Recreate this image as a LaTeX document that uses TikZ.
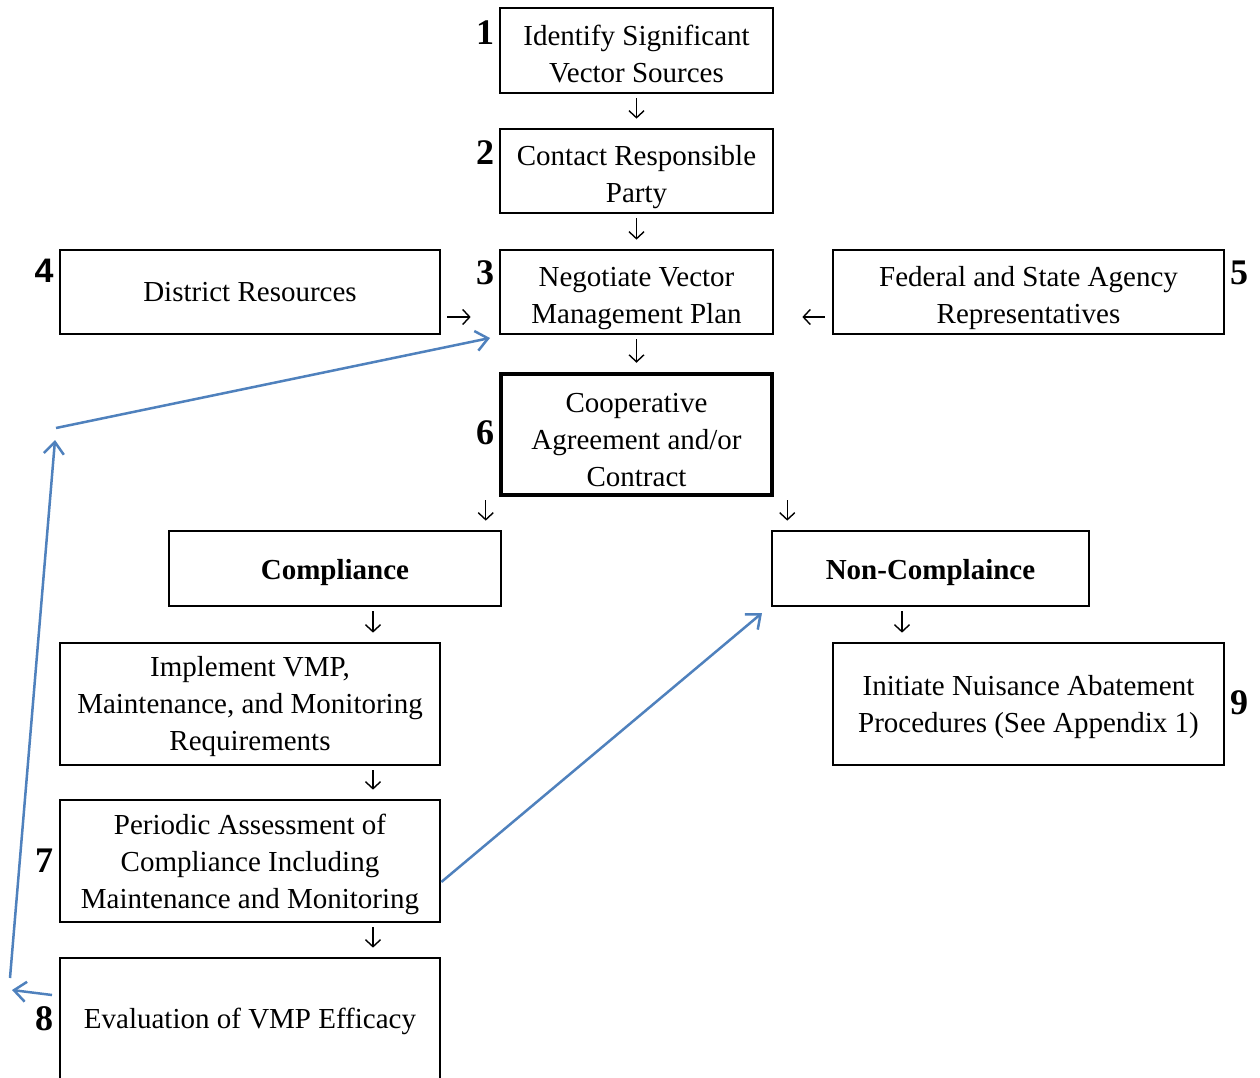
\documentclass[tikz,border=0pt]{standalone}
\usepackage{fontspec}
\setmainfont{Liberation Serif}
\newfontfamily\arialfont{Liberation Sans}
\usetikzlibrary{arrows.meta}
\definecolor{blueline}{HTML}{4F81BD}
\begin{document}
\begin{tikzpicture}[x=1pt,y=-1pt,
  box/.style={draw,line width=2.7pt,inner sep=0pt},
  txt/.style={align=center,inner sep=0pt,font=\fontsize{29}{37}\selectfont},
  btxt/.style={txt,font=\fontsize{29}{37}\selectfont\bfseries},
  num/.style={font=\fontsize{36}{40}\selectfont\bfseries,inner sep=0pt},
  sarr/.style={line width=1.4pt,-{Straight Barb[length=7pt,width=15pt]}},
  barr/.style={draw=blueline,line width=2.5pt,-{Straight Barb[length=12pt,width=20pt,line width=2.5pt]}}]
\useasboundingbox (0,0) rectangle (1260,1078);
\fill[white] (0,0) rectangle (1260,1078);
% boxes
\node[box,minimum width=273,minimum height=85] (b1) at (636.5,50.5) {};
\node[box,minimum width=273,minimum height=84] (b2) at (636.5,171) {};
\node[box,minimum width=273,minimum height=84] (b3) at (636.5,292) {};
\node[box,minimum width=380,minimum height=84] (b4) at (250,292) {};
\node[box,minimum width=391,minimum height=84] (b5) at (1028.5,292) {};
\node[box,line width=4.5pt,minimum width=271,minimum height=121] (b6) at (636.5,434.5) {};
\node[box,minimum width=332,minimum height=75] (comp) at (335,568.5) {};
\node[box,minimum width=317,minimum height=75] (nc) at (930.5,568.5) {};
\node[box,minimum width=380,minimum height=122] (imp) at (250,704) {};
\node[box,minimum width=391,minimum height=122] (ini) at (1028.5,704) {};
\node[box,minimum width=380,minimum height=122] (per) at (250,861) {};
\node[box,minimum width=380,minimum height=124] (ev) at (250,1020) {};
% texts
\node[txt] (b1t) at ([yshift=-4pt]b1.center) {Identify Significant\\Vector Sources};
\node[txt] (b2t) at ([yshift=-6pt]b2.center) {Contact Responsible\\Party};
\node[txt] (b3t) at ([yshift=-6.5pt]b3.center) {Negotiate Vector\\Management Plan};
\node[txt] (b4t) at (b4.center) {District Resources};
\node[txt] (b5t) at ([yshift=-6pt]b5.center) {Federal and State Agency\\Representatives};
\node[txt] (b6t) at ([yshift=-6pt]b6.center) {Cooperative\\Agreement and/or\\Contract};
\node[btxt] (compt) at ([yshift=-4pt]comp.center) {Compliance};
\node[btxt] (nct) at ([yshift=-4pt]nc.center) {Non-Complaince};
\node[txt] (impt) at ([yshift=-3pt]imp.center) {Implement VMP,\\Maintenance, and Monitoring\\Requirements};
\node[txt] (init) at ([yshift=-3pt]ini.center) {Initiate Nuisance Abatement\\Procedures (See Appendix 1)};
\node[txt] (pert) at ([yshift=-3pt]per.center) {Periodic Assessment of\\Compliance Including\\Maintenance and Monitoring};
\node[txt] (evt) at ([yshift=-1pt]ev.center) {Evaluation of VMP Efficacy};
% numbers
\node[num] (n1) at (485,33) {1};
\node[num] (n2) at (485,153) {2};
\node[num] (n3) at (485,273) {3};
\node[num,font=\fontsize{34}{40}\selectfont\bfseries\arialfont] (n4) at (44,271) {4};
\node[num] (n5) at (1239,273) {5};
\node[num] (n6) at (485,433) {6};
\node[num] (n7) at (44,861) {7};
\node[num] (n8) at (44,1019) {8};
\node[num] (n9) at (1239,703) {9};
% small black arrows
\draw[sarr,shorten <=4pt,shorten >=9pt] (b1.south) -- (b2.north);
\draw[sarr,shorten <=4pt,shorten >=9pt] (b2.south) -- (b3.north);
\draw[sarr,shorten <=4pt,shorten >=9pt] (b3.south) -- (b6.north);
\draw[sarr,shorten <=3pt,shorten >=9pt] ([xshift=-13pt]b6.south west) -- ([xshift=-13pt]b6.south west |- comp.north);
\draw[sarr,shorten <=3pt,shorten >=9pt] ([xshift=13pt]b6.south east) -- ([xshift=13pt]b6.south east |- nc.north);
\draw[sarr,shorten <=4pt,shorten >=9pt] ([xshift=38pt]comp.south) -- ([xshift=38pt]comp.south |- imp.north);
\draw[sarr,shorten <=4pt,shorten >=9pt] ([xshift=-28.5pt]nc.south) -- ([xshift=-28.5pt]nc.south |- ini.north);
\draw[sarr,shorten <=4pt,shorten >=9pt] ([xshift=123pt]imp.south) -- ([xshift=123pt]imp.south |- per.north);
\draw[sarr,shorten <=4pt,shorten >=9pt] ([xshift=123pt]per.south) -- ([xshift=123pt]per.south |- ev.north);
\draw[sarr,shorten <=6pt,shorten >=28pt] ([yshift=-25pt]b4.east) -- ([yshift=-25pt]b4.east -| b3.west);
\draw[sarr,shorten <=7pt,shorten >=28pt] ([yshift=-25pt]b5.west) -- ([yshift=-25pt]b5.west -| b3.east);
% blue feedback arrows
\coordinate (evl) at (52,995);
\coordinate (lft) at (12,990);
\coordinate (bot) at (10,978);
\coordinate (top) at (55,440);
\coordinate (top2) at (56,428);
\coordinate (t3) at (490,338);
\coordinate (tnc) at (762,613);
\draw[barr] (evl) -- (lft);
\draw[barr] (bot) -- (top);
\draw[barr] (top2) -- (t3);
\draw[barr] ([yshift=-21pt]per.east) -- (tnc);
\end{tikzpicture}
\end{document}
